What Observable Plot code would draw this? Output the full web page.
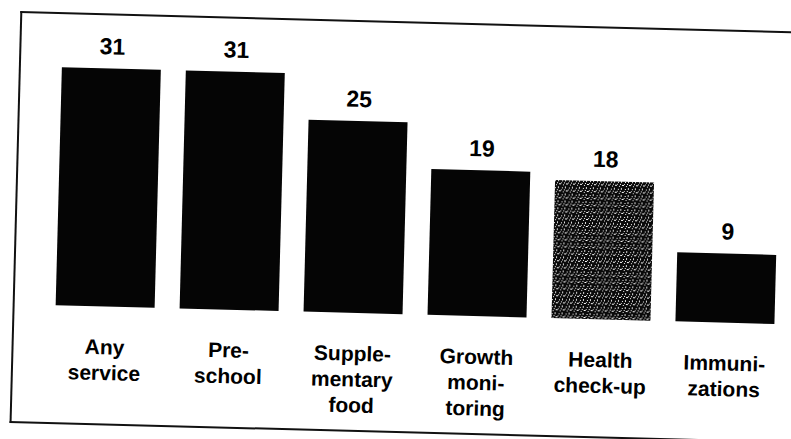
<!DOCTYPE html>
<html>
<head>
<meta charset="utf-8">
<script src="https://cdn.jsdelivr.net/npm/d3@7"></script>
<script src="https://cdn.jsdelivr.net/npm/@observablehq/plot@0.6"></script>
<style>
  html, body { margin: 0; padding: 0; background: #fff; overflow: hidden; }
  #wrap { position: relative; width: 791px; height: 439px; transform: rotate(1.5deg); transform-origin: 50% 50%; }
  #frame { position: absolute; left: 15px; top: 21px; width: 800px; height: 408px;
           border-left: 2px solid #111; border-top: 2px solid #111; border-bottom: 2px solid #111; }
  #chart { position: absolute; left: 0; top: 0; }
</style>
</head>
<body>
<svg width="0" height="0" style="position:absolute">
  <defs>
    <pattern id="speckle" width="7" height="7" patternUnits="userSpaceOnUse">
      <rect width="7" height="7" fill="#0a0a0a"/>
      <rect x="1" y="1" width="1" height="1" fill="#fff"/>
      <rect x="4" y="0" width="1" height="2" fill="#ddd"/>
      <rect x="5" y="4" width="2" height="1" fill="#fff"/>
      <rect x="2" y="5" width="1" height="1" fill="#eee"/>
      <rect x="0" y="3" width="1" height="1" fill="#ccc"/>
      <rect x="3" y="3" width="1" height="1" fill="#fff"/>
    </pattern>
  </defs>
</svg>
<div id="wrap">
  <div id="frame"></div>
  <div id="chart"></div>
</div>
<script>
const categories = ["Any service", "Pre-school", "Supplementary food", "Growth monitoring", "Health check-up", "Immunizations"];
const values = [31, 31, 25, 19, 18, 9];
const tickLabels = ["Any\nservice", "Pre-\nschool", "Supple-\nmentary\nfood", "Growth\nmoni-\ntoring", "Health\ncheck-up", "Immuni-\nzations"];
const highlighted = "Health check-up";

const data = categories.map((c, i) => ({category: c, value: values[i], label: tickLabels[i]}));

const chart = Plot.plot({
  width: 791,
  height: 439,
  marginLeft: 45,
  marginRight: 0,
  marginTop: 0,
  marginBottom: 0,
  style: {fontFamily: "'Liberation Sans', Arial, sans-serif", background: "transparent"},
  x: {domain: categories, paddingInner: 0.2, paddingOuter: 0.1, axis: null},
  y: {domain: [0, 31], range: [314, 76], axis: null},
  marks: [
    Plot.barY(data.filter(d => d.category !== highlighted), {x: "category", y: "value", fill: "#050505"}),
    Plot.barY(data.filter(d => d.category === highlighted), {x: "category", y: "value", fill: "url(#speckle)"}),
    Plot.text(data, {x: "category", y: "value", text: d => String(d.value), dy: -22,
      fontSize: 23, fontWeight: "bold", fill: "#000"}),
    Plot.text(data, {x: "category", y: () => 0, text: "label", dy: 29, lineAnchor: "top",
      lineHeight: 1.23, fontSize: 21, fontWeight: "bold", fill: "#000"})
  ]
});
document.getElementById("chart").appendChild(chart);
</script>
</body>
</html>
